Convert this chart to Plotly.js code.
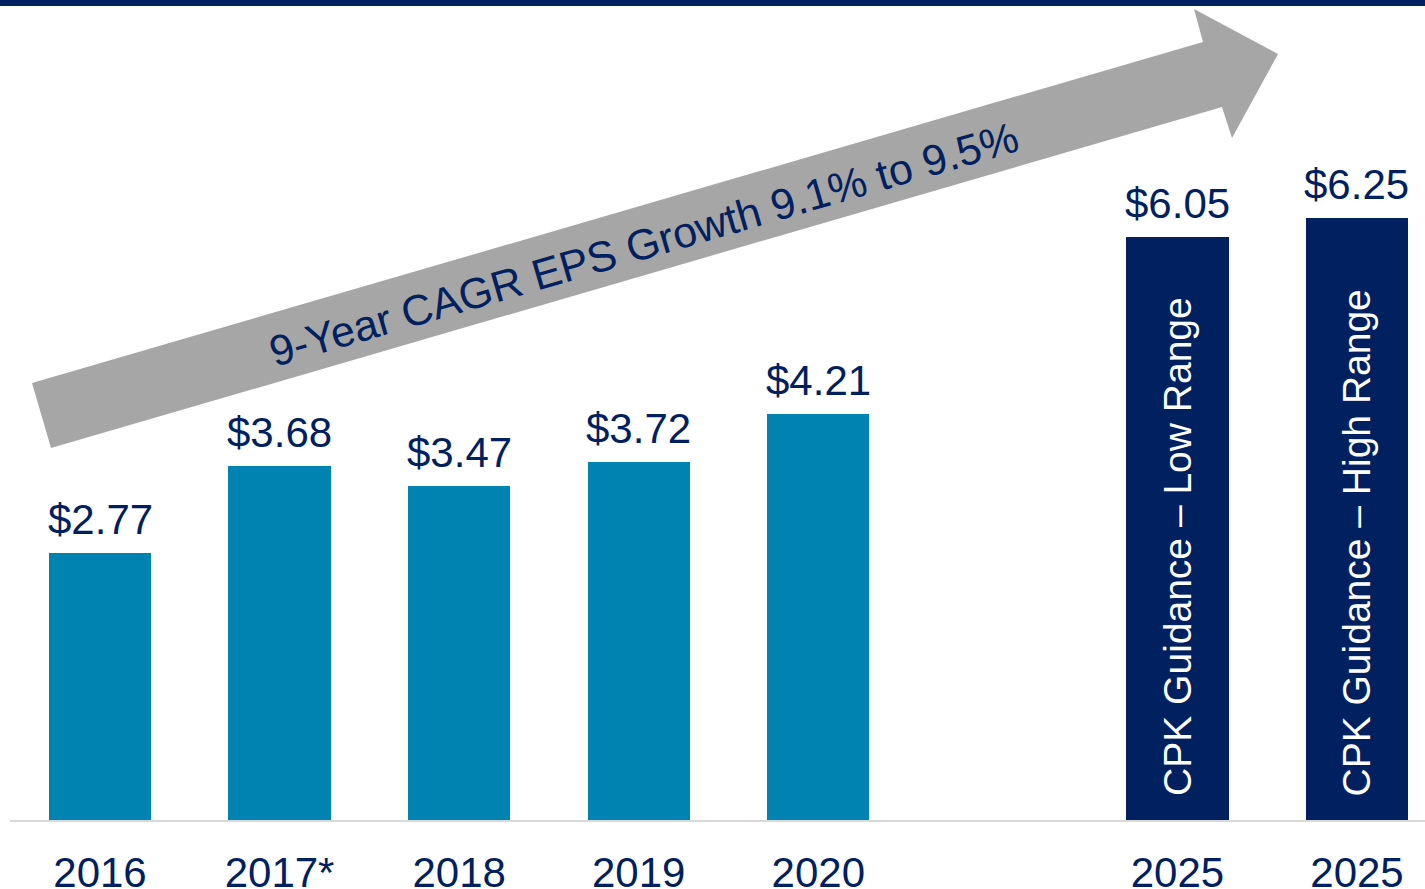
<!DOCTYPE html>
<html>
<head>
<meta charset="utf-8">
<script src="https://cdn.plot.ly/plotly-3.0.1.min.js"></script>
<style>
  html, body { margin: 0; padding: 0; background: #ffffff; }
  #chart { width: 1425px; height: 889px; }
</style>
</head>
<body>
<div id="chart"></div>
<script>
// ---- data ----
const years = ['2016', '2017*', '2018', '2019', '2020'];
const eps = [2.77, 3.68, 3.47, 3.72, 4.21];
const guidanceYears = ['2025', '2025'];
const guidanceEps = [6.05, 6.25];
const guidanceText = ['CPK Guidance \u2013 Low Range', 'CPK Guidance \u2013 High Range'];
const arrowText = '9-Year CAGR EPS Growth 9.1% to 9.5%';

// ---- layout helpers ----
const W = 1425, H = 889;
const M = { l: 10, r: 0, t: 0, b: 69 };
const plotW = W - M.l - M.r, plotH = H - M.t - M.b;
const px = x => (x - M.l) / plotW;
const py = y => 1 - (y - M.t) / plotH;

const NAVY = '#002060';
const TEAL = '#0083B0';
const GREY = '#A6A6A6';
const FONT = 'Liberation Sans, Arial, sans-serif';

const xHist = years.map((_, i) => i);
const xGuide = guidanceYears.map((_, i) => years.length + 1 + i);

const traces = [
  { type: 'bar', x: xHist, y: eps, width: 0.57, marker: { color: TEAL }, hoverinfo: 'skip', showlegend: false },
  { type: 'bar', x: xGuide, y: guidanceEps, width: 0.57, marker: { color: NAVY }, hoverinfo: 'skip', showlegend: false }
];

const fmt = v => '$' + v.toFixed(2);
const annotations = [];
xHist.forEach((x, i) => annotations.push({
  x: x, y: eps[i], xref: 'x', yref: 'y', text: fmt(eps[i]), showarrow: false,
  xanchor: 'center', yanchor: 'bottom', yshift: 8,
  font: { family: FONT, size: 42, color: NAVY }
}));
xGuide.forEach((x, i) => annotations.push({
  x: x, y: guidanceEps[i], xref: 'x', yref: 'y', text: fmt(guidanceEps[i]), showarrow: false,
  xanchor: 'center', yanchor: 'bottom', yshift: 8,
  font: { family: FONT, size: 42, color: NAVY }
}));
xGuide.forEach((x, i) => annotations.push({
  x: x, y: 0, xref: 'x', yref: 'y', text: guidanceText[i], showarrow: false,
  textangle: -90, xanchor: 'center', yanchor: 'bottom', yshift: 22,
  font: { family: FONT, size: 39, color: '#ffffff' }
}));
// arrow label
annotations.push({
  x: px(644), y: py(244), xref: 'paper', yref: 'paper', text: arrowText, showarrow: false,
  textangle: -16.2, xanchor: 'center', yanchor: 'middle',
  font: { family: FONT, size: 43, color: NAVY }
});

// arrow polygon (pixel vertices of the decorative arrow)
const arrowPts = [[32, 383], [1203, 42], [1194, 9], [1278, 54], [1232, 138], [1222, 107], [51, 448]];
const arrowPath = 'M ' + arrowPts.map(p => px(p[0]) + ',' + py(p[1])).join(' L ') + ' Z';

const shapes = [
  { type: 'path', xref: 'paper', yref: 'paper', path: arrowPath, fillcolor: GREY, line: { width: 0 }, layer: 'below' },
  { type: 'rect', xref: 'paper', yref: 'paper', x0: px(0), x1: px(W), y0: py(0), y1: py(6), fillcolor: NAVY, line: { width: 0 } }
];

const pxPerUnitX = 179.57;
const layout = {
  width: W, height: H,
  margin: M,
  paper_bgcolor: '#ffffff', plot_bgcolor: 'rgba(0,0,0,0)',
  showlegend: false,
  bargap: 0,
  xaxis: {
    range: [-(100 - M.l) / pxPerUnitX, (W - M.r - 100) / pxPerUnitX],
    tickvals: xHist.concat(xGuide),
    ticktext: years.concat(guidanceYears),
    tickfont: { family: FONT, size: 42, color: NAVY },
    ticks: '', ticklabelstandoff: 15, showgrid: false, zeroline: false,
    showline: true, linecolor: '#D9D9D9', linewidth: 2,
    fixedrange: true
  },
  yaxis: {
    range: [0, plotH / 96.33],
    visible: false, showgrid: false, zeroline: false, fixedrange: true
  },
  shapes: shapes,
  annotations: annotations
};

Plotly.newPlot('chart', traces, layout, { displayModeBar: false, staticPlot: true });
</script>
</body>
</html>
